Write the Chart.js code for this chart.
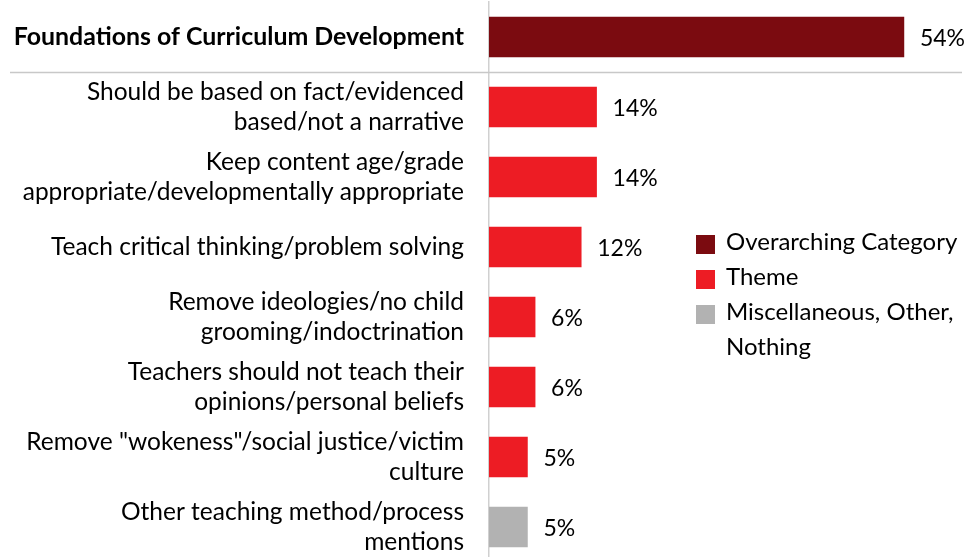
<!DOCTYPE html>
<html>
<head>
<meta charset="utf-8">
<script src="https://cdn.jsdelivr.net/npm/chart.js@4"></script>
<style>
  html, body { margin: 0; padding: 0; background: #fff; overflow: hidden; }
  #wrap { position: relative; width: 970px; height: 562px; }
  #legend { position: absolute; left: 696px; top: 223px; font-family: Lato, sans-serif; font-size: 24px; color: #000; }
  .item { position: relative; padding-left: 30px; line-height: 35px; white-space: nowrap; }
  .sw { position: absolute; left: 0; top: 12px; width: 19px; height: 19px; }
</style>
</head>
<body>
<div id="wrap">
  <canvas id="c" width="970" height="562"></canvas>
  <div id="legend"></div>
</div>
<script>
const categories = [
  ["Foundations of Curriculum Development"],
  ["Should be based on fact/evidenced", "based/not a narrative"],
  ["Keep content age/grade", "appropriate/developmentally appropriate"],
  ["Teach critical thinking/problem solving"],
  ["Remove ideologies/no child", "grooming/indoctrination"],
  ["Teachers should not teach their", "opinions/personal beliefs"],
  ["Remove \"wokeness\"/social justice/victim", "culture"],
  ["Other teaching method/process", "mentions"]
];
const values = [54, 14, 14, 12, 6, 6, 5, 5];
const groups = ["Overarching Category", "Theme", "Theme", "Theme", "Theme", "Theme", "Theme", "Miscellaneous, Other, Nothing"];
const legendNames = ["Overarching Category", "Theme", "Miscellaneous, Other, Nothing"];
const legendColors = ["#7B0B10", "#ED1C24", "#B2B2B2"];

const colorOf = g => legendColors[legendNames.indexOf(g)];

const FONT = "Lato, sans-serif";

const valueLabels = {
  id: 'valueLabels',
  afterDatasetsDraw(chart) {
    const ctx = chart.ctx;
    const meta = chart.getDatasetMeta(0);
    ctx.save();
    ctx.font = "23px " + FONT;
    ctx.fillStyle = "#000";
    ctx.textBaseline = "middle";
    ctx.textAlign = "left";
    meta.data.forEach((bar, i) => {
      ctx.fillText(values[i] + "%", bar.x + 16, bar.y + 2);
    });
    ctx.restore();
  }
};

const separator = {
  id: 'separator',
  beforeDatasetsDraw(chart) {
    const y = chart.scales.y;
    const yy = Math.round((y.getPixelForValue(0) + y.getPixelForValue(1)) / 2) + 0.5;
    const ctx = chart.ctx;
    ctx.save();
    ctx.strokeStyle = "#C8C8C8";
    ctx.lineWidth = 1.5;
    ctx.beginPath();
    ctx.moveTo(10, yy);
    ctx.lineTo(962, yy);
    ctx.stroke();
    ctx.restore();
  }
};

new Chart(document.getElementById('c'), {
  type: 'bar',
  data: {
    labels: categories,
    datasets: [{
      data: values,
      backgroundColor: groups.map(colorOf),
      barThickness: 40,
      borderWidth: 0
    }]
  },
  options: {
    indexAxis: 'y',
    responsive: false,
    animation: false,
    layout: { padding: { top: 2, bottom: 0, right: 20, left: 0 } },
    plugins: { legend: { display: false }, tooltip: { enabled: false } },
    scales: {
      x: { display: false, min: 0, max: 60 },
      y: {
        afterFit(scale) { scale.width = 489; scale.paddingTop = 0; scale.paddingBottom = 0; },
        grid: { display: false, drawTicks: false },
        border: { display: true, color: "#D0D0D0", width: 1.5 },
        ticks: {
          padding: 25,
          color: "#000",
          autoSkip: false,
          font: (c) => ({ family: FONT, size: c.index === 0 ? 24.9 : 24.5, lineHeight: 1.22, weight: c.index === 0 ? 'bold' : 'normal' })
        }
      }
    }
  },
  plugins: [valueLabels, separator]
});

const lg = document.getElementById('legend');
legendNames.forEach((n, i) => {
  const d = document.createElement('div');
  d.className = 'item';
  const parts = n === "Miscellaneous, Other, Nothing" ? "Miscellaneous, Other,<br>Nothing" : n;
  d.innerHTML = '<span class="sw" style="background:' + legendColors[i] + '"></span>' + parts;
  lg.appendChild(d);
});
</script>
</body>
</html>
